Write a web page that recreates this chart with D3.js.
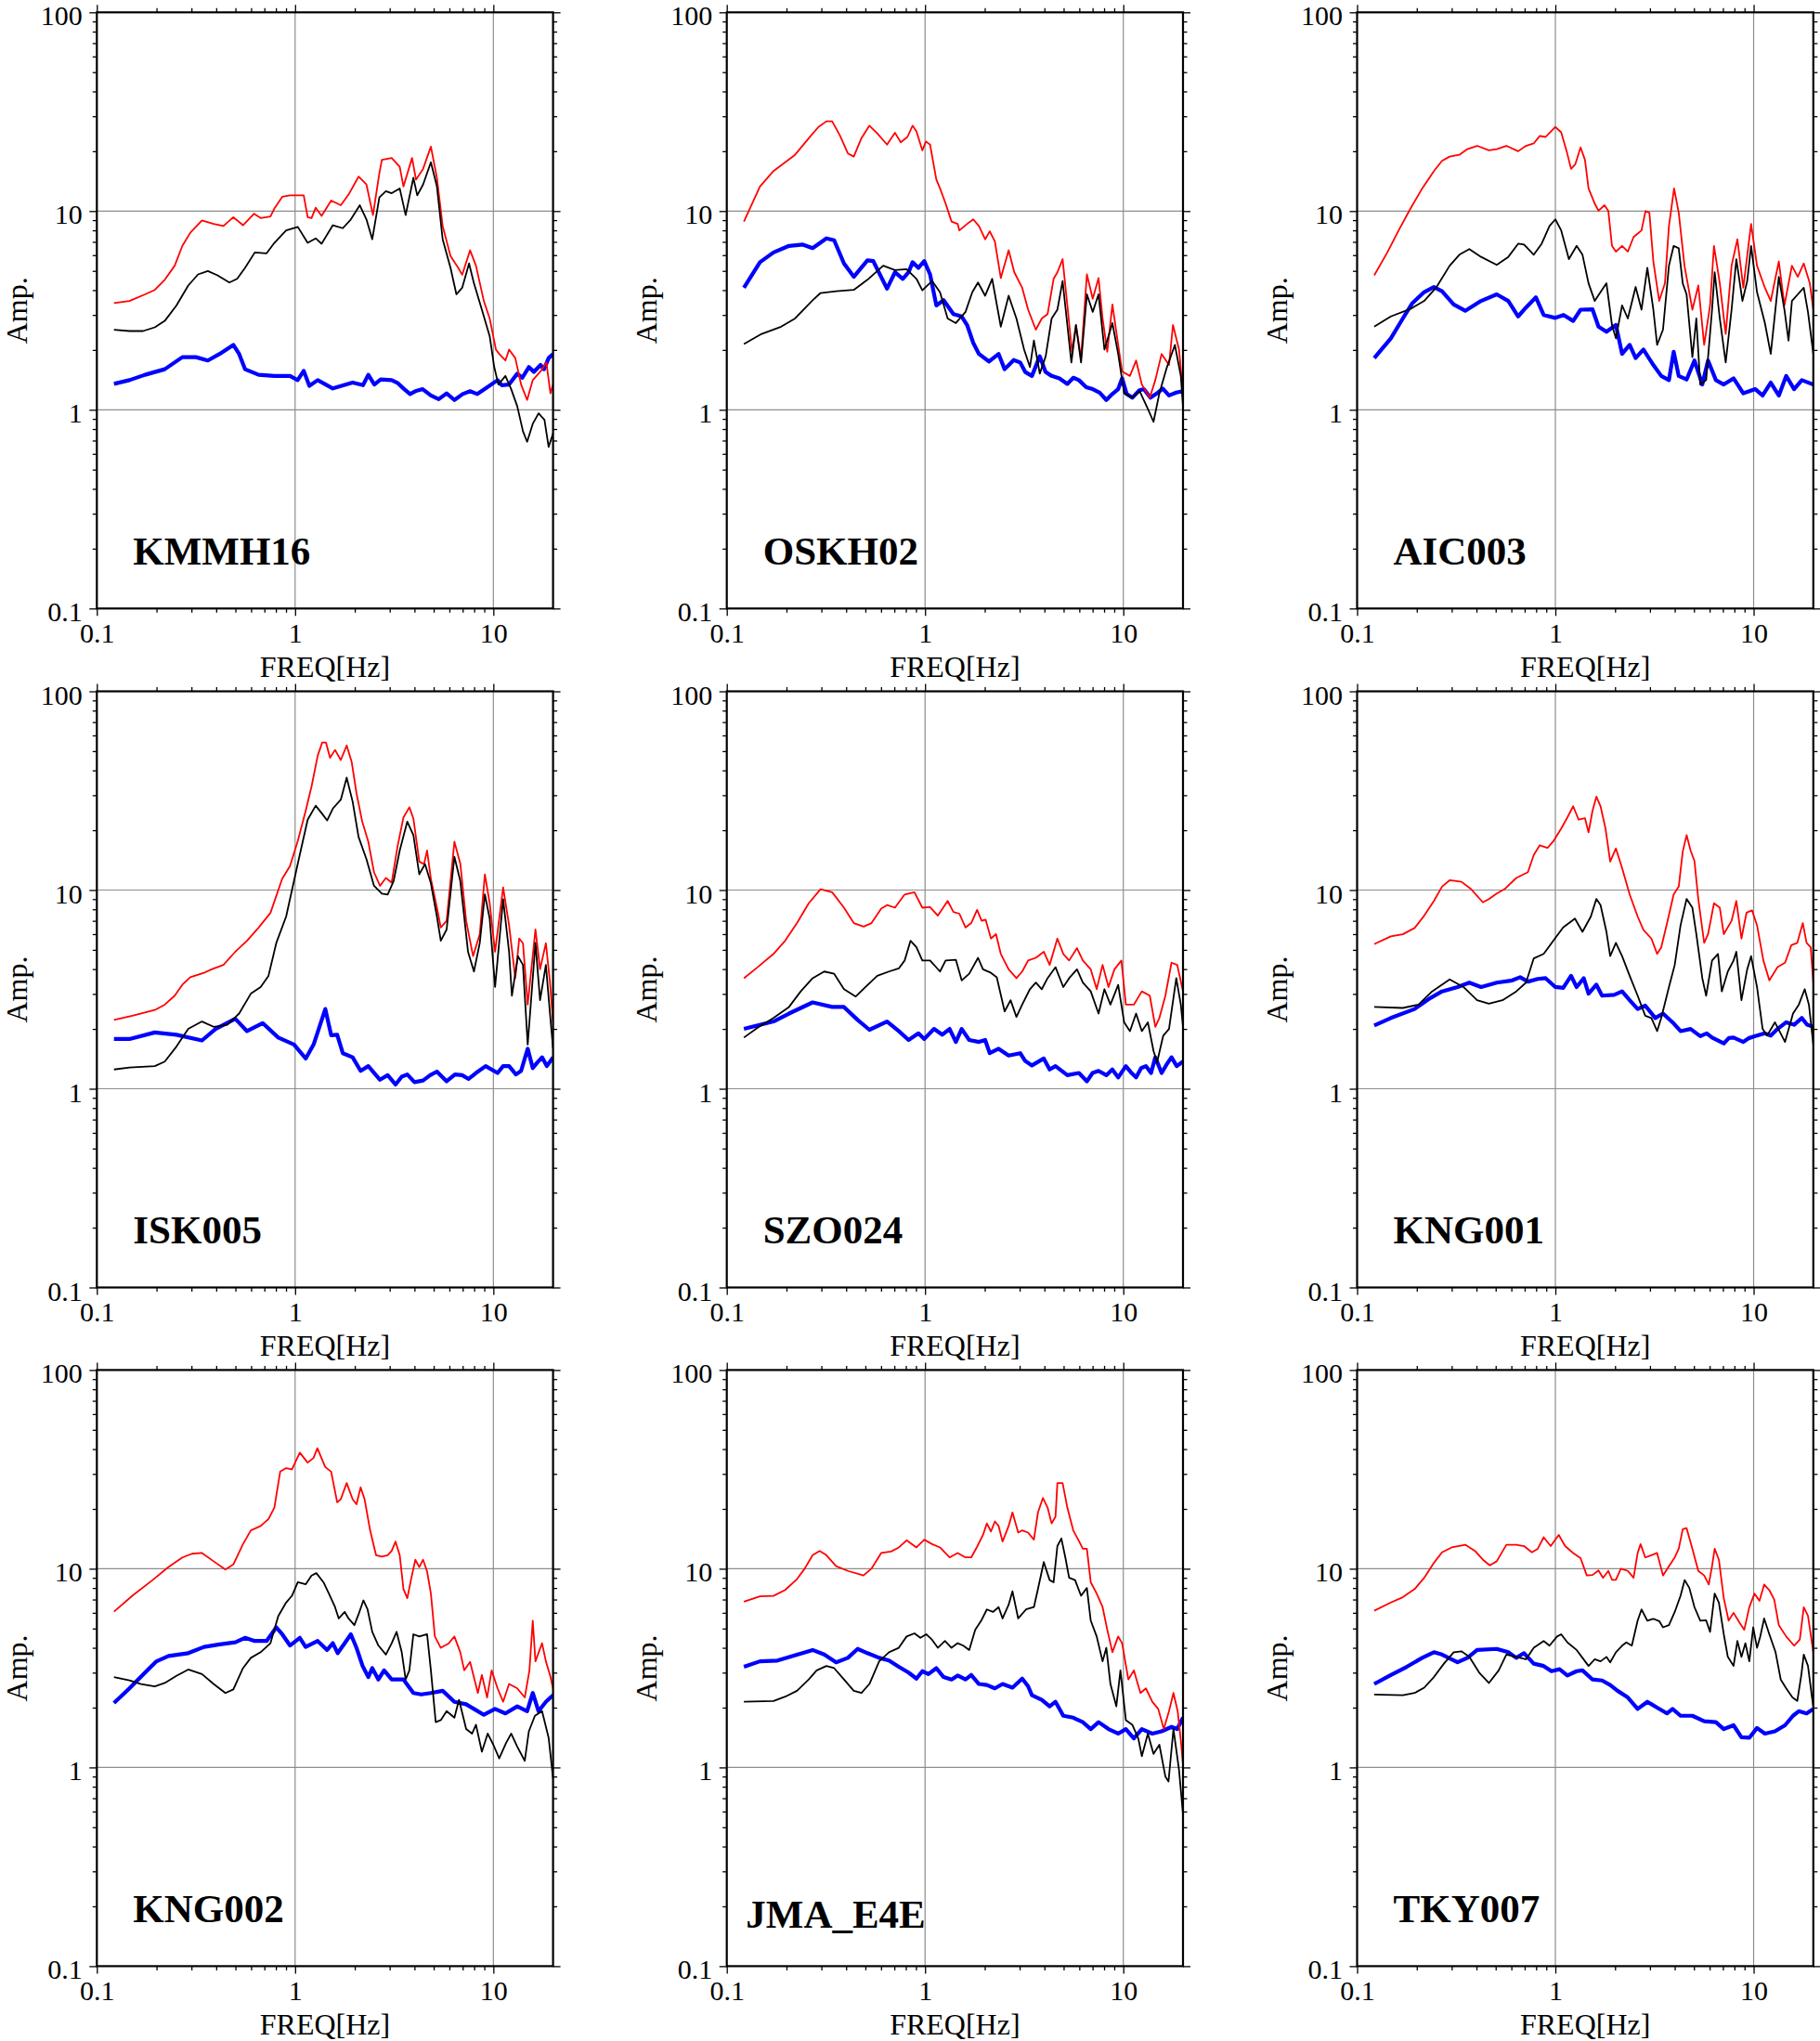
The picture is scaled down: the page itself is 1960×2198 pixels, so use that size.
<!DOCTYPE html>
<html><head><meta charset="utf-8">
<script src="https://cdn.jsdelivr.net/npm/d3@7"></script>
<style>body{margin:0;background:#fff}svg{display:block}</style>
</head><body><svg id="c" width="1960" height="2198"></svg>
<script>
// ---------------- DATA ----------------
const stations = ["KMMH16","OSKH02","AIC003","ISK005","SZO024","KNG001","KNG002","JMA_E4E","TKY007"];
const xTicks = [0.1, 1, 10];
const xTickLabels = ["0.1", "1", "10"];
const yTicks = [0.1, 1, 10, 100];
const yTickLabels = ["0.1", "1", "10", "100"];
const xMinor = [0.2,0.3,0.4,0.5,0.6,0.7,0.8,0.9,2,3,4,5,6,7,8,9];
const yMinor = [0.2,0.3,0.4,0.5,0.6,0.7,0.8,0.9,2,3,4,5,6,7,8,9,20,30,40,50,60,70,80,90];
const xLabel = "FREQ[Hz]";
const yLabel = "Amp.";

const KMMH16_red = [[0.122,3.44],[0.146,3.53],[0.175,3.81],[0.196,4.01],[0.22,4.51],[0.247,5.31],[0.27,6.68],[0.296,7.78],[0.339,8.98],[0.388,8.62],[0.435,8.41],[0.488,9.31],[0.546,8.49],[0.621,9.7],[0.67,9.22],[0.751,9.4],[0.786,10.3],[0.861,11.8],[0.942,12.0],[1.105,12.0],[1.157,9.31],[1.21,9.22],[1.27,10.4],[1.36,9.46],[1.52,11.3],[1.7,10.7],[1.86,12.1],[2.09,14.9],[2.29,13.6],[2.47,9.55],[2.66,15.5],[2.74,18.1],[3.07,18.5],[3.37,16.7],[3.52,13.3],[3.89,18.5],[4.07,14.4],[4.42,16.3],[4.84,21.1],[5.19,14.7],[5.55,8.41],[6.08,5.94],[6.65,5.18],[6.96,4.78],[7.63,6.35],[8.17,5.31],[8.95,3.53],[9.58,2.88],[10.3,2.01],[10.7,1.91],[11.5,1.77],[12.0,2.01],[12.9,1.82],[13.8,1.34],[14.8,1.12],[15.8,1.41],[17.3,1.56],[18.5,1.73],[19.4,1.21],[20,1.34]];
const KMMH16_black = [[0.122,2.53],[0.146,2.49],[0.171,2.49],[0.196,2.6],[0.22,2.8],[0.252,3.35],[0.289,4.22],[0.324,4.8],[0.363,4.99],[0.406,4.75],[0.466,4.37],[0.51,4.56],[0.559,5.18],[0.626,6.19],[0.718,6.13],[0.786,6.92],[0.901,7.99],[1.032,8.32],[1.157,6.92],[1.27,7.29],[1.36,6.85],[1.55,8.49],[1.74,8.2],[1.91,9.08],[2.12,10.7],[2.29,9.08],[2.45,7.21],[2.66,11.7],[2.87,12.6],[3.07,12.3],[3.37,13.0],[3.61,9.55],[3.95,14.7],[4.13,12.0],[4.42,13.6],[4.84,17.6],[5.19,13.3],[5.55,7.21],[6.08,5.18],[6.51,3.81],[6.96,4.11],[7.54,5.45],[7.98,4.33],[8.75,3.19],[9.58,2.35],[10.1,1.64],[10.6,1.34],[11.5,1.48],[12.3,1.27],[13.2,1.04],[14.1,0.78],[14.8,0.69],[15.8,0.85],[16.9,0.96],[18.1,0.89],[19.0,0.65],[20,0.76]];
const KMMH16_blue = [[0.122,1.35],[0.146,1.41],[0.175,1.5],[0.22,1.6],[0.27,1.84],[0.316,1.84],[0.363,1.77],[0.416,1.91],[0.488,2.12],[0.522,1.91],[0.559,1.6],[0.655,1.5],[0.786,1.48],[0.942,1.48],[1.03,1.41],[1.105,1.57],[1.18,1.32],[1.3,1.41],[1.55,1.28],[1.95,1.37],[2.2,1.33],[2.34,1.5],[2.51,1.34],[2.7,1.42],[3.07,1.41],[3.3,1.36],[3.52,1.28],[3.8,1.2],[4.04,1.24],[4.4,1.27],[4.84,1.18],[5.3,1.13],[5.81,1.21],[6.36,1.12],[7.0,1.2],[7.63,1.24],[8.3,1.2],[9.14,1.28],[10.5,1.41],[11.0,1.33],[12.0,1.34],[13.2,1.52],[14.0,1.45],[15.1,1.64],[16.0,1.55],[17.3,1.68],[18.0,1.6],[19.0,1.82],[20,1.91]];

const OSKH02_red = [[0.122,8.85],[0.147,13.3],[0.172,15.9],[0.197,17.6],[0.221,19.2],[0.265,23.9],[0.29,26.5],[0.318,28.3],[0.34,28.3],[0.373,23.9],[0.408,19.5],[0.437,18.8],[0.478,23.3],[0.524,26.9],[0.574,24.6],[0.643,21.6],[0.705,24.8],[0.754,22.2],[0.815,23.6],[0.865,26.9],[0.905,25.2],[0.969,20.2],[1.01,22.4],[1.06,21.6],[1.14,14.4],[1.19,13.0],[1.27,10.9],[1.36,8.85],[1.46,8.62],[1.49,7.99],[1.63,8.62],[1.75,9.08],[1.87,8.41],[2.01,7.21],[2.12,7.91],[2.25,7.03],[2.41,4.6],[2.64,6.35],[2.82,4.92],[3.09,4.11],[3.31,3.19],[3.62,2.53],[3.88,2.88],[4.15,3.03],[4.45,4.56],[4.65,4.92],[4.94,5.73],[5.22,3.35],[5.51,1.96],[5.77,2.67],[6.12,1.82],[6.55,4.8],[7.01,3.62],[7.5,4.6],[7.86,2.88],[8.3,1.96],[8.81,3.39],[9.42,2.12],[9.86,1.56],[10.8,1.48],[11.6,1.77],[12.4,1.34],[13.6,1.15],[14.5,1.41],[15.6,1.91],[17.0,1.68],[17.8,2.67],[19.1,2.01],[20,1.21]];
const OSKH02_black = [[0.122,2.14],[0.15,2.41],[0.188,2.62],[0.221,2.88],[0.271,3.56],[0.297,3.87],[0.356,3.95],[0.437,4.01],[0.512,4.51],[0.615,5.31],[0.705,5.05],[0.807,5.1],[0.905,4.56],[0.969,3.99],[1.085,4.45],[1.19,3.9],[1.3,2.88],[1.43,2.73],[1.6,3.11],[1.73,3.9],[1.85,4.37],[2.01,3.75],[2.18,4.56],[2.41,2.62],[2.64,3.75],[2.89,2.88],[3.16,2.01],[3.38,1.64],[3.54,2.23],[3.79,1.52],[4.06,1.86],[4.35,2.88],[4.65,3.19],[4.94,4.45],[5.22,2.67],[5.47,1.73],[5.77,2.67],[6.12,1.73],[6.55,3.81],[7.01,3.11],[7.5,3.81],[8.03,2.01],[8.81,2.73],[9.42,1.91],[10.1,1.21],[11.1,1.15],[12.1,1.24],[13.3,1.01],[14.2,0.87],[15.2,1.21],[16.6,1.64],[18.2,2.12],[19.5,1.48],[20,1.04]];
const OSKH02_blue = [[0.122,4.11],[0.147,5.53],[0.172,6.19],[0.206,6.68],[0.242,6.78],[0.271,6.51],[0.318,7.29],[0.348,7.13],[0.39,5.45],[0.437,4.67],[0.512,5.65],[0.548,5.6],[0.643,4.07],[0.705,4.92],[0.772,4.56],[0.826,4.92],[0.865,5.53],[0.926,5.18],[0.991,5.6],[1.06,4.8],[1.14,3.35],[1.24,3.56],[1.39,3.03],[1.53,2.95],[1.63,2.67],[1.75,2.17],[1.87,1.91],[2.1,1.75],[2.35,1.91],[2.52,1.6],[2.8,1.78],[3.02,1.73],[3.2,1.55],[3.46,1.48],[3.79,1.86],[4.05,1.55],[4.35,1.48],[4.76,1.44],[5.22,1.35],[5.6,1.45],[5.97,1.41],[6.5,1.3],[7.01,1.27],[7.6,1.22],[8.21,1.12],[8.8,1.2],[9.42,1.27],[9.86,1.44],[10.4,1.2],[11.1,1.15],[12.0,1.25],[12.7,1.27],[13.7,1.15],[14.8,1.21],[15.8,1.28],[17.0,1.18],[18.5,1.22],[20,1.24]];

const AIC003_red = [[0.122,4.75],[0.142,6.19],[0.162,7.99],[0.186,10.3],[0.213,13.0],[0.244,15.9],[0.268,17.9],[0.293,18.8],[0.328,19.2],[0.36,20.5],[0.403,21.3],[0.462,20.2],[0.506,20.5],[0.566,21.3],[0.649,20.0],[0.711,21.3],[0.778,21.9],[0.834,23.9],[0.893,23.6],[0.947,25.1],[1.0,26.5],[1.07,24.9],[1.14,20.0],[1.2,16.3],[1.26,17.2],[1.34,20.9],[1.41,18.1],[1.47,13.0],[1.58,10.9],[1.65,10.05],[1.77,10.7],[1.85,10.0],[1.93,6.68],[2.02,6.25],[2.17,6.68],[2.32,6.25],[2.48,7.4],[2.72,7.99],[2.85,10.0],[2.98,9.8],[3.12,5.58],[3.34,3.53],[3.57,4.33],[3.74,8.41],[3.97,13.0],[4.19,9.8],[4.48,5.31],[4.91,3.19],[5.26,4.22],[5.63,2.12],[6.03,3.35],[6.31,6.68],[6.75,4.33],[7.23,2.41],[7.74,5.31],[8.28,7.21],[8.87,4.11],[9.71,8.62],[10.4,5.31],[11.4,4.11],[12.2,3.53],[13.4,5.58],[14.3,3.35],[15.6,5.31],[16.7,4.67],[17.9,5.45],[19.2,4.33],[20,3.19]];
const AIC003_black = [[0.122,2.62],[0.148,2.95],[0.186,3.22],[0.218,3.53],[0.25,4.11],[0.293,5.31],[0.328,6.03],[0.368,6.44],[0.422,5.88],[0.506,5.36],[0.579,5.88],[0.649,6.85],[0.695,6.78],[0.778,6.03],[0.853,6.85],[0.934,8.41],[1.0,9.08],[1.07,7.99],[1.17,5.73],[1.28,6.68],[1.37,6.03],[1.47,4.33],[1.58,3.53],[1.69,3.91],[1.81,4.33],[1.93,2.67],[2.02,2.29],[2.17,3.35],[2.32,2.88],[2.54,4.15],[2.72,3.19],[2.91,5.18],[3.12,3.19],[3.26,2.12],[3.49,2.53],[3.74,5.31],[3.95,6.68],[4.19,6.5],[4.39,4.33],[4.59,3.81],[4.91,1.84],[5.14,2.88],[5.38,1.34],[5.76,1.41],[6.17,3.19],[6.36,4.92],[6.75,2.88],[7.23,1.73],[7.74,3.19],[8.18,5.73],[8.78,3.53],[9.28,4.44],[9.71,6.68],[10.4,3.91],[11.4,2.73],[12.2,1.91],[13.4,4.67],[14.3,3.19],[15.0,2.23],[15.6,3.53],[16.7,3.81],[17.9,4.11],[18.8,3.1],[20,1.91]];
const AIC003_blue = [[0.122,1.82],[0.148,2.29],[0.17,2.88],[0.19,3.44],[0.218,3.91],[0.244,4.15],[0.268,3.95],[0.307,3.39],[0.351,3.15],[0.422,3.53],[0.506,3.81],[0.579,3.53],[0.649,2.95],[0.711,3.27],[0.797,3.68],[0.873,3.0],[1.0,2.9],[1.1,3.0],[1.23,2.8],[1.34,3.19],[1.54,3.2],[1.65,2.62],[1.81,2.47],[2.02,2.67],[2.17,1.91],[2.37,2.12],[2.54,1.82],[2.78,2.01],[3.12,1.68],[3.42,1.48],[3.74,1.41],[3.95,1.96],[4.19,1.48],[4.59,1.42],[5.03,1.77],[5.51,1.34],[5.89,1.77],[6.45,1.41],[7.07,1.34],[7.92,1.44],[8.87,1.21],[10.2,1.27],[11.1,1.18],[12.2,1.37],[13.4,1.18],[14.6,1.48],[16.0,1.27],[17.5,1.41],[20,1.34]];

const ISK005_red = [[0.122,2.22],[0.151,2.33],[0.196,2.49],[0.22,2.65],[0.247,2.94],[0.27,3.34],[0.296,3.64],[0.347,3.83],[0.379,3.99],[0.435,4.2],[0.499,4.89],[0.572,5.56],[0.655,6.48],[0.751,7.67],[0.861,11.4],[0.942,13.2],[1.032,17.7],[1.131,25.1],[1.21,33.2],[1.3,47.4],[1.37,55.3],[1.43,55.3],[1.5,46.3],[1.59,50.7],[1.7,45.1],[1.82,53.4],[1.93,44.0],[2.04,30.7],[2.18,22.1],[2.34,17.5],[2.5,12.3],[2.68,10.5],[2.87,11.5],[3.07,10.9],[3.29,16.7],[3.52,23.2],[3.77,26.1],[3.95,22.9],[4.23,13.9],[4.47,13.5],[4.63,15.8],[4.84,11.4],[5.19,8.15],[5.43,6.48],[5.81,7.0],[6.36,17.5],[6.81,13.6],[7.29,7.0],[7.9,4.65],[8.54,6.0],[9.06,12.0],[9.58,8.58],[10.2,4.89],[11.2,10.3],[12.0,6.65],[12.9,3.6],[13.5,5.7],[14.1,5.4],[14.9,2.65],[16.3,6.33],[17.2,3.99],[18.4,5.4],[19.3,3.43],[20,2.16]];
const ISK005_black = [[0.122,1.25],[0.146,1.28],[0.196,1.3],[0.22,1.37],[0.252,1.63],[0.289,2.0],[0.339,2.18],[0.388,2.05],[0.455,2.1],[0.522,2.39],[0.598,3.01],[0.67,3.25],[0.734,3.7],[0.804,5.42],[0.901,7.36],[0.987,11.1],[1.055,15.0],[1.157,22.6],[1.27,26.6],[1.36,24.4],[1.45,22.4],[1.55,25.7],[1.7,28.5],[1.82,36.8],[1.95,27.9],[2.09,18.5],[2.29,14.3],[2.5,10.5],[2.74,9.6],[2.93,9.5],[3.14,11.1],[3.37,15.8],[3.68,22.1],[3.95,18.9],[4.23,12.0],[4.52,13.5],[4.84,10.8],[5.19,7.36],[5.43,5.56],[5.81,6.33],[6.36,14.7],[6.81,11.1],[7.45,4.89],[7.98,3.89],[8.54,5.42],[9.06,9.5],[9.58,7.18],[10.2,3.25],[11.2,9.0],[12.0,4.89],[12.4,2.94],[13.3,4.65],[14.1,4.2],[14.9,1.67],[16.3,5.42],[17.2,2.79],[18.4,4.2],[19.3,2.39],[20,1.59]];
const ISK005_blue = [[0.122,1.78],[0.146,1.78],[0.196,1.92],[0.252,1.87],[0.339,1.75],[0.397,2.0],[0.499,2.25],[0.572,1.95],[0.686,2.14],[0.822,1.81],[0.987,1.67],[1.131,1.42],[1.24,1.67],[1.42,2.52],[1.52,1.86],[1.63,1.87],[1.74,1.51],[1.95,1.44],[2.14,1.23],[2.34,1.3],[2.68,1.11],[2.93,1.17],[3.21,1.05],[3.45,1.15],[3.68,1.18],[4.0,1.08],[4.42,1.1],[4.8,1.17],[5.19,1.22],[5.81,1.09],[6.4,1.18],[6.96,1.17],[7.5,1.12],[8.17,1.2],[9.14,1.3],[10.5,1.2],[11.2,1.3],[12.0,1.3],[13.0,1.18],[13.8,1.23],[14.9,1.59],[15.8,1.27],[16.6,1.35],[17.6,1.44],[18.6,1.3],[20,1.44]];

const SZO024_red = [[0.122,3.6],[0.143,4.09],[0.172,4.77],[0.197,5.56],[0.226,6.82],[0.259,8.58],[0.297,10.1],[0.34,9.75],[0.39,8.15],[0.437,6.82],[0.49,6.55],[0.537,6.82],[0.601,8.07],[0.643,8.4],[0.705,8.15],[0.789,9.5],[0.884,9.75],[0.969,8.15],[1.06,8.2],[1.16,7.43],[1.3,8.81],[1.39,7.75],[1.49,7.6],[1.6,6.48],[1.71,6.82],[1.83,7.94],[1.93,7.0],[2.02,7.1],[2.15,5.7],[2.28,6.0],[2.41,4.77],[2.64,3.99],[2.89,3.6],[3.09,3.89],[3.31,4.42],[3.62,4.56],[3.97,4.89],[4.25,4.2],[4.65,5.7],[4.98,4.77],[5.33,4.42],[5.84,5.1],[6.25,4.42],[6.85,3.99],[7.34,3.17],[7.86,4.2],[8.42,3.25],[9.02,3.99],[9.78,4.42],[10.3,2.65],[11.3,2.65],[12.4,3.09],[13.6,2.94],[14.5,2.05],[15.2,2.27],[16.3,2.94],[17.5,4.31],[18.7,4.2],[20,3.09]];
const SZO024_black = [[0.122,1.81],[0.143,2.03],[0.172,2.27],[0.206,2.58],[0.236,3.09],[0.271,3.6],[0.31,3.89],[0.348,3.79],[0.39,3.17],[0.447,2.91],[0.501,3.25],[0.574,3.7],[0.658,3.89],[0.737,4.03],[0.789,4.42],[0.845,5.56],[0.905,5.15],[0.969,4.42],[1.06,4.42],[1.19,3.89],[1.27,4.42],[1.43,4.46],[1.53,3.51],[1.67,3.79],[1.85,4.56],[1.96,3.99],[2.15,3.83],[2.3,3.64],[2.52,2.45],[2.7,2.79],[2.89,2.3],[3.09,2.65],[3.38,3.17],[3.62,3.42],[3.88,3.17],[4.15,3.6],[4.55,4.09],[4.98,3.25],[5.33,3.6],[5.84,3.99],[6.25,3.42],[6.85,3.09],[7.5,2.39],[8.03,3.17],[8.61,2.65],[9.42,3.33],[10.1,2.16],[10.8,1.95],[11.6,2.39],[12.4,1.95],[13.3,2.16],[14.2,1.55],[14.8,1.36],[15.9,1.85],[17.0,2.0],[18.5,3.6],[19.5,2.65],[20,2.05]];
const SZO024_blue = [[0.122,2.0],[0.172,2.18],[0.206,2.39],[0.271,2.72],[0.34,2.58],[0.39,2.58],[0.457,2.22],[0.524,1.98],[0.643,2.18],[0.737,1.95],[0.826,1.76],[0.926,1.9],[0.991,1.78],[1.11,2.0],[1.22,1.87],[1.33,2.0],[1.43,1.72],[1.53,2.0],[1.67,1.76],[1.87,1.72],[2.01,1.76],[2.12,1.51],[2.35,1.59],[2.64,1.47],[3.02,1.51],[3.2,1.38],[3.46,1.31],[3.97,1.42],[4.25,1.25],[4.55,1.3],[5.22,1.17],[5.97,1.2],[6.55,1.09],[7.0,1.2],[7.5,1.23],[8.21,1.17],[8.8,1.25],[9.42,1.14],[10.3,1.3],[11.0,1.2],[11.6,1.14],[12.3,1.27],[13.0,1.3],[13.8,1.2],[14.5,1.44],[15.6,1.2],[16.5,1.32],[17.5,1.44],[18.6,1.3],[20,1.37]];

const KNG001_red = [[0.122,5.34],[0.148,5.85],[0.17,5.99],[0.195,6.44],[0.218,7.43],[0.244,8.81],[0.268,10.4],[0.293,11.2],[0.336,11.0],[0.376,10.1],[0.431,8.67],[0.462,9.0],[0.506,9.6],[0.554,10.1],[0.635,11.5],[0.727,12.3],[0.778,15.0],[0.834,16.8],[0.913,16.3],[0.977,17.6],[1.07,20.4],[1.15,23.2],[1.23,26.4],[1.31,22.6],[1.41,23.0],[1.47,19.5],[1.54,25.1],[1.61,29.5],[1.69,26.4],[1.79,20.4],[1.89,13.9],[2.02,16.2],[2.17,12.9],[2.37,9.5],[2.6,7.36],[2.78,6.31],[3.05,5.7],[3.26,4.77],[3.42,5.15],[3.66,6.82],[3.95,9.5],[4.19,10.4],[4.39,15.6],[4.59,18.9],[4.81,15.8],[5.03,14.0],[5.26,9.0],[5.63,5.42],[5.89,6.0],[6.31,8.58],[6.75,8.15],[7.07,6.0],[7.74,7.0],[8.18,8.81],[8.68,5.7],[9.21,7.7],[9.82,7.9],[10.4,6.65],[11.2,4.42],[12.0,3.51],[13.2,4.09],[14.4,4.31],[15.5,5.28],[16.6,5.42],[17.7,6.82],[18.5,5.42],[19.4,5.15],[20,3.42]];
const KNG001_black = [[0.122,2.58],[0.17,2.55],[0.204,2.65],[0.239,3.09],[0.293,3.55],[0.344,3.25],[0.403,2.79],[0.462,2.68],[0.541,2.79],[0.635,3.09],[0.711,3.42],[0.778,4.53],[0.873,4.77],[0.977,5.56],[1.095,6.48],[1.255,7.18],[1.37,6.16],[1.51,7.36],[1.61,9.02],[1.69,8.4],[1.81,6.16],[1.89,4.65],[2.02,5.42],[2.17,4.65],[2.37,3.7],[2.6,2.94],[2.84,2.33],[3.05,2.27],[3.26,1.95],[3.42,2.27],[3.74,3.25],[4.0,4.2],[4.28,6.65],[4.59,9.02],[4.91,8.15],[5.14,6.0],[5.51,3.6],[5.76,2.94],[6.17,4.42],[6.61,4.77],[6.91,3.09],[7.41,3.89],[7.92,4.42],[8.18,4.89],[8.68,2.79],[9.28,3.99],[9.71,4.65],[10.4,3.25],[11.1,2.0],[11.7,1.85],[12.8,2.16],[14.4,1.72],[15.8,2.39],[16.9,2.65],[18.1,3.17],[19.0,2.65],[20,1.67]];
const KNG001_blue = [[0.122,2.08],[0.148,2.27],[0.195,2.52],[0.234,2.86],[0.268,3.09],[0.321,3.25],[0.368,3.42],[0.422,3.25],[0.506,3.42],[0.606,3.51],[0.664,3.64],[0.727,3.46],[0.815,3.57],[0.893,3.6],[1.0,3.25],[1.095,3.22],[1.2,3.7],[1.28,3.25],[1.39,3.6],[1.47,3.01],[1.61,3.34],[1.72,2.94],[1.98,2.97],[2.17,3.09],[2.37,2.79],[2.6,2.52],[2.84,2.62],[3.19,2.27],[3.49,2.39],[3.9,2.16],[4.28,1.95],[4.81,2.0],[5.38,1.84],[5.8,1.9],[6.17,1.81],[7.07,1.69],[7.5,1.8],[7.92,1.81],[8.87,1.72],[9.5,1.8],[10.2,1.84],[11.4,1.9],[12.2,1.85],[13.2,2.0],[14.6,2.16],[16.0,2.1],[17.5,2.27],[18.6,2.1],[20,2.05]];

const KNG002_red = [[0.122,6.08],[0.151,7.31],[0.191,8.77],[0.23,10.2],[0.27,11.4],[0.302,11.9],[0.339,12.0],[0.388,10.9],[0.445,9.9],[0.488,10.5],[0.546,13.3],[0.598,15.6],[0.67,16.4],[0.734,17.8],[0.786,20.3],[0.841,30.8],[0.901,32.1],[0.964,31.6],[1.056,38.4],[1.157,34.2],[1.238,36.1],[1.295,40.4],[1.419,32.5],[1.52,30.8],[1.63,21.6],[1.7,22.4],[1.82,27.0],[1.95,22.4],[2.04,21.1],[2.14,25.7],[2.24,22.4],[2.39,15.6],[2.56,11.7],[2.74,11.5],[2.93,11.7],[3.07,12.3],[3.21,13.7],[3.37,11.7],[3.52,7.9],[3.68,7.11],[3.86,9.0],[4.04,11.1],[4.23,10.2],[4.42,11.1],[4.63,9.7],[4.84,7.5],[5.07,4.56],[5.43,4.0],[5.94,4.2],[6.36,4.56],[6.81,3.8],[7.13,3.08],[7.63,3.4],[8.35,2.37],[8.75,2.92],[9.3,2.25],[9.8,3.08],[10.5,2.5],[11.2,2.14],[12.0,2.63],[13.2,2.5],[14.4,2.25],[15.2,3.08],[15.8,5.48],[16.3,3.42],[17.6,4.22],[18.4,3.42],[19.3,2.92],[20,2.5]];
const KNG002_black = [[0.122,2.85],[0.146,2.74],[0.167,2.63],[0.196,2.56],[0.22,2.66],[0.252,2.89],[0.289,3.11],[0.339,2.95],[0.388,2.63],[0.445,2.37],[0.488,2.47],[0.546,3.16],[0.598,3.56],[0.67,3.8],[0.751,4.22],[0.822,5.77],[0.901,6.76],[0.964,7.31],[1.032,8.55],[1.13,8.35],[1.21,9.24],[1.28,9.5],[1.39,8.55],[1.48,7.5],[1.59,6.41],[1.66,5.62],[1.78,6.06],[1.86,5.62],[1.99,5.2],[2.09,5.9],[2.21,6.93],[2.32,6.24],[2.45,4.81],[2.63,4.11],[2.87,3.7],[3.07,4.22],[3.25,4.81],[3.45,3.8],[3.61,2.77],[3.77,3.08],[3.95,4.68],[4.23,4.56],[4.63,4.68],[4.84,3.08],[5.12,1.69],[5.43,1.73],[5.81,1.92],[6.36,1.78],[6.71,2.19],[7.29,1.56],[7.81,1.48],[8.17,1.64],[8.75,1.2],[9.36,1.48],[10.0,1.3],[10.7,1.11],[11.6,1.33],[12.3,1.48],[13.2,1.27],[14.4,1.08],[15.1,1.52],[16.2,1.82],[17.6,1.92],[19.0,1.41],[20,0.88]];
const KNG002_blue = [[0.122,2.11],[0.146,2.5],[0.175,3.0],[0.2,3.42],[0.23,3.64],[0.289,3.76],[0.347,4.04],[0.416,4.16],[0.499,4.26],[0.559,4.49],[0.626,4.33],[0.718,4.33],[0.804,5.07],[0.861,4.68],[0.942,4.11],[1.056,4.49],[1.13,4.04],[1.3,4.33],[1.45,3.9],[1.55,4.22],[1.64,3.76],[1.78,4.22],[1.91,4.68],[2.04,4.0],[2.19,3.24],[2.34,2.85],[2.45,3.16],[2.63,2.77],[2.81,3.08],[3.07,2.77],[3.52,2.77],[3.95,2.37],[4.33,2.33],[4.84,2.37],[5.55,2.43],[6.36,2.14],[7.29,2.08],[7.98,1.97],[8.95,1.84],[10.2,1.97],[11.5,1.87],[13.2,2.03],[14.8,1.92],[15.8,2.37],[16.9,1.92],[18.4,2.14],[20,2.31]];

const JMA_E4E_red = [[0.122,6.82],[0.147,7.27],[0.172,7.3],[0.197,7.82],[0.226,8.87],[0.247,10.0],[0.271,11.7],[0.294,12.3],[0.318,11.7],[0.356,10.3],[0.408,9.75],[0.489,9.25],[0.536,10.0],[0.601,12.0],[0.673,12.2],[0.738,12.8],[0.807,13.9],[0.905,12.8],[0.991,14.0],[1.085,13.3],[1.19,12.8],[1.33,11.4],[1.46,12.0],[1.6,11.4],[1.71,11.4],[1.83,12.9],[1.96,14.8],[2.05,16.9],[2.15,15.4],[2.25,17.3],[2.35,16.4],[2.46,13.7],[2.64,16.4],[2.76,19.2],[2.95,15.2],[3.09,15.6],[3.31,15.2],[3.54,14.0],[3.71,19.2],[3.93,22.7],[4.15,20.3],[4.35,16.9],[4.55,18.3],[4.65,27.0],[4.94,27.0],[5.22,20.3],[5.59,15.6],[5.99,13.7],[6.25,12.6],[6.55,12.6],[6.85,8.55],[7.34,7.5],[7.86,6.41],[8.3,4.93],[8.81,3.8],[9.42,4.56],[9.86,4.22],[10.6,2.77],[11.3,3.08],[12.2,2.37],[13.0,2.5],[14.0,2.14],[15.0,1.97],[16.0,1.56],[17.0,1.92],[17.9,2.37],[18.8,1.92],[19.6,1.3],[20,1.03]];
const JMA_E4E_black = [[0.122,2.14],[0.172,2.16],[0.197,2.27],[0.226,2.43],[0.259,2.77],[0.284,3.08],[0.318,3.24],[0.348,3.16],[0.39,2.77],[0.437,2.43],[0.478,2.37],[0.524,2.63],[0.587,3.42],[0.658,3.8],[0.737,4.0],[0.807,4.56],[0.884,4.73],[0.947,4.49],[1.014,4.68],[1.085,4.39],[1.16,4.0],[1.26,4.33],[1.36,4.0],[1.46,4.22],[1.56,4.1],[1.67,3.9],[1.79,4.93],[1.92,5.48],[2.05,6.24],[2.2,6.06],[2.35,6.41],[2.46,5.62],[2.64,6.59],[2.76,7.7],[2.95,5.62],[3.23,6.24],[3.54,6.41],[3.71,7.9],[3.97,10.8],[4.25,8.77],[4.45,8.55],[4.65,13.0],[4.87,14.2],[5.1,11.4],[5.33,9.0],[5.71,8.77],[6.12,7.31],[6.55,8.0],[6.85,5.48],[7.34,4.56],[7.86,3.42],[8.21,4.0],[8.61,2.63],[9.22,2.03],[9.67,3.08],[10.3,1.73],[11.1,1.64],[11.9,1.4],[12.4,1.14],[13.3,1.48],[14.2,1.17],[15.2,1.3],[16.3,0.9],[16.9,0.85],[17.9,1.56],[19.1,0.97],[20,0.58]];
const JMA_E4E_blue = [[0.122,3.21],[0.147,3.42],[0.18,3.45],[0.216,3.64],[0.271,3.9],[0.31,3.7],[0.356,3.38],[0.408,3.56],[0.457,3.95],[0.512,3.76],[0.587,3.56],[0.658,3.45],[0.737,3.21],[0.826,3.0],[0.905,2.8],[0.969,3.05],[1.04,2.95],[1.14,3.16],[1.24,2.85],[1.36,2.77],[1.46,2.9],[1.6,2.77],[1.71,2.92],[1.87,2.63],[2.05,2.6],[2.25,2.5],[2.46,2.63],[2.76,2.52],[3.09,2.8],[3.31,2.56],[3.46,2.31],[3.88,2.19],[4.25,2.03],[4.55,2.14],[4.98,1.82],[5.59,1.78],[6.25,1.69],[6.85,1.56],[7.5,1.69],[8.42,1.56],[9.42,1.48],[10.3,1.56],[11.3,1.4],[12.4,1.56],[14.0,1.48],[15.6,1.52],[17.5,1.6],[18.7,1.56],[20,1.78]];

const TKY007_red = [[0.122,6.15],[0.148,6.76],[0.17,7.19],[0.195,7.9],[0.218,9.0],[0.244,10.7],[0.268,12.1],[0.3,12.8],[0.351,13.2],[0.393,12.3],[0.431,11.1],[0.467,10.4],[0.506,10.9],[0.566,13.2],[0.635,13.2],[0.695,13.0],[0.761,12.1],[0.815,12.6],[0.873,14.4],[0.947,13.0],[1.04,14.8],[1.12,13.0],[1.23,12.0],[1.34,11.3],[1.44,9.25],[1.54,9.3],[1.65,9.8],[1.74,9.0],[1.85,9.75],[1.93,8.8],[2.02,8.8],[2.14,10.0],[2.32,9.75],[2.48,9.0],[2.6,12.0],[2.69,13.3],[2.84,11.4],[3.05,11.7],[3.26,12.0],[3.49,9.25],[3.74,10.3],[4.0,11.4],[4.19,12.6],[4.39,15.8],[4.59,16.0],[4.91,12.6],[5.26,9.75],[5.63,9.25],[5.94,8.33],[6.17,10.3],[6.36,12.6],[6.68,11.1],[7.07,7.11],[7.48,5.48],[7.92,6.0],[8.49,5.35],[8.97,4.93],[9.51,6.4],[10.1,7.5],[10.7,6.9],[11.3,8.33],[12.0,7.8],[12.7,7.0],[13.4,5.2],[14.6,4.56],[16.0,4.1],[17.1,4.4],[17.9,6.4],[18.8,5.8],[20,3.8]];
const TKY007_black = [[0.122,2.33],[0.17,2.31],[0.195,2.37],[0.218,2.52],[0.244,2.85],[0.274,3.33],[0.307,3.8],[0.336,3.84],[0.368,3.6],[0.413,3.0],[0.462,2.66],[0.518,3.08],[0.566,3.7],[0.635,3.6],[0.711,3.5],[0.778,4.0],[0.873,4.33],[0.934,4.1],[1.02,4.56],[1.07,4.68],[1.15,4.26],[1.28,3.9],[1.37,3.56],[1.47,3.24],[1.58,3.5],[1.69,3.42],[1.81,3.6],[1.89,3.38],[2.02,3.8],[2.17,4.1],[2.28,4.26],[2.43,4.1],[2.6,5.48],[2.72,6.24],[2.91,5.48],[3.12,5.6],[3.34,5.45],[3.49,5.07],[3.74,5.2],[4.0,6.06],[4.28,7.31],[4.49,8.77],[4.74,8.0],[5.03,6.41],[5.38,5.48],[5.76,5.5],[6.03,4.81],[6.36,7.5],[6.68,6.76],[7.07,4.68],[7.41,3.6],[7.92,3.24],[8.28,4.33],[8.68,3.6],[9.09,4.22],[9.51,3.42],[9.95,5.07],[10.4,4.0],[10.8,4.56],[11.3,5.62],[12.0,4.68],[12.9,3.8],[13.7,2.77],[14.6,2.5],[15.7,2.25],[16.6,2.16],[17.4,2.92],[17.9,3.7],[18.8,3.24],[19.7,2.25],[20,2.03]];
const TKY007_blue = [[0.122,2.63],[0.148,2.92],[0.178,3.21],[0.213,3.56],[0.244,3.8],[0.268,3.7],[0.321,3.38],[0.36,3.56],[0.403,3.9],[0.506,3.95],[0.579,3.8],[0.635,3.56],[0.695,3.76],[0.778,3.33],[0.873,3.24],[0.956,3.05],[1.05,3.12],[1.15,2.9],[1.28,3.05],[1.37,3.08],[1.54,2.77],[1.72,2.74],[1.89,2.6],[2.06,2.43],[2.32,2.25],[2.6,1.97],[2.91,2.14],[3.26,2.0],[3.66,1.87],[3.9,1.97],[4.28,1.82],[4.91,1.82],[5.63,1.71],[6.45,1.69],[7.07,1.56],[7.92,1.63],[8.68,1.42],[9.51,1.41],[10.4,1.58],[11.4,1.48],[12.8,1.52],[14.4,1.63],[15.8,1.82],[16.9,1.92],[18.5,1.87],[20,1.97]];

// table built from the arrays
const panels = [
  {name: stations[0], red: KMMH16_red, black: KMMH16_black, blue: KMMH16_blue},
  {name: stations[1], red: OSKH02_red, black: OSKH02_black, blue: OSKH02_blue},
  {name: stations[2], red: AIC003_red, black: AIC003_black, blue: AIC003_blue},
  {name: stations[3], red: ISK005_red, black: ISK005_black, blue: ISK005_blue},
  {name: stations[4], red: SZO024_red, black: SZO024_black, blue: SZO024_blue},
  {name: stations[5], red: KNG001_red, black: KNG001_black, blue: KNG001_blue},
  {name: stations[6], red: KNG002_red, black: KNG002_black, blue: KNG002_blue},
  {name: stations[7], red: JMA_E4E_red, black: JMA_E4E_black, blue: JMA_E4E_blue},
  {name: stations[8], red: TKY007_red, black: TKY007_black, blue: TKY007_blue}
];

// ---------------- DRAWING ----------------
const FONT = "'Liberation Serif','Times New Roman',Times,serif";
const svg = d3.select("#c");
svg.append("rect").attr("width", 1960).attr("height", 2198).attr("fill", "#fff");
const W = 491.3, H = 642;
const colX = [104.3, 782.7, 1461.5];
const rowY = [13.3, 744.5, 1475.4];
const x = d3.scaleLog().domain([0.1, 20]).range([0, W]);
const y = d3.scaleLog().domain([0.1, 100]).range([H, 0]);
const line = d3.line().x(d => x(d[0])).y(d => y(d[1]));
const gridColor = "#8d8d8d";

function styleAxis(sel, labels) {
  sel.select(".domain").remove();
  sel.selectAll(".tick line").attr("stroke", "#000").attr("stroke-width", 1.3);
  sel.attr("font-family", FONT).attr("font-size", 30);
  if (labels) sel.selectAll(".tick text").attr("fill", "#000");
}

panels.forEach((p, i) => {
  const g = svg.append("g")
    .attr("transform", `translate(${colX[i % 3]},${rowY[Math.floor(i / 3)]})`);

  // grid
  const gx = [1, 10], gy = [1, 10];
  g.append("g").selectAll("line").data(gx).join("line")
    .attr("x1", d => x(d)).attr("x2", d => x(d)).attr("y1", 0).attr("y2", H)
    .attr("stroke", gridColor).attr("stroke-width", 1.2);
  g.append("g").selectAll("line").data(gy).join("line")
    .attr("y1", d => y(d)).attr("y2", d => y(d)).attr("x1", 0).attr("x2", W)
    .attr("stroke", gridColor).attr("stroke-width", 1.2);

  // curves
  const cid = "clip" + i;
  g.append("clipPath").attr("id", cid).append("rect").attr("width", W).attr("height", H);
  const cg = g.append("g").attr("clip-path", `url(#${cid})`);
  cg.append("path").datum(p.blue).attr("d", line).attr("fill", "none")
    .attr("stroke", "#0000ff").attr("stroke-width", 4.2).attr("stroke-linejoin", "round");
  cg.append("path").datum(p.red).attr("d", line).attr("fill", "none")
    .attr("stroke", "#ff0000").attr("stroke-width", 1.8).attr("stroke-linejoin", "round");
  cg.append("path").datum(p.black).attr("d", line).attr("fill", "none")
    .attr("stroke", "#000").attr("stroke-width", 1.8).attr("stroke-linejoin", "round");

  // frame
  g.append("rect").attr("width", W).attr("height", H).attr("fill", "none")
    .attr("stroke", "#000").attr("stroke-width", 2.2);

  // axes
  g.append("g").attr("transform", `translate(0,${H})`)
    .call(d3.axisBottom(x).tickValues(xTicks).tickFormat((d, k) => xTickLabels[k]).tickSize(8).tickPadding(7.2).tickSizeOuter(0))
    .call(s => styleAxis(s, true));
  g.append("g").attr("transform", `translate(0,${H})`)
    .call(d3.axisBottom(x).tickValues(xMinor).tickFormat(() => "").tickSize(4.5).tickSizeOuter(0))
    .call(s => styleAxis(s, false));
  g.append("g")
    .call(d3.axisTop(x).tickValues(xTicks).tickFormat(() => "").tickSize(8).tickSizeOuter(0))
    .call(s => styleAxis(s, false));
  g.append("g")
    .call(d3.axisTop(x).tickValues(xMinor).tickFormat(() => "").tickSize(4.5).tickSizeOuter(0))
    .call(s => styleAxis(s, false));
  g.append("g")
    .call(d3.axisLeft(y).tickValues(yTicks).tickFormat((d, k) => yTickLabels[k]).tickSize(8).tickPadding(7.5).tickSizeOuter(0))
    .call(s => { styleAxis(s, true); s.selectAll(".tick text").attr("dy", "0.45em"); });
  g.append("g")
    .call(d3.axisLeft(y).tickValues(yMinor).tickFormat(() => "").tickSize(4.5).tickSizeOuter(0))
    .call(s => styleAxis(s, false));
  g.append("g").attr("transform", `translate(${W},0)`)
    .call(d3.axisRight(y).tickValues(yTicks).tickFormat(() => "").tickSize(8).tickSizeOuter(0))
    .call(s => styleAxis(s, false));
  g.append("g").attr("transform", `translate(${W},0)`)
    .call(d3.axisRight(y).tickValues(yMinor).tickFormat(() => "").tickSize(4.5).tickSizeOuter(0))
    .call(s => styleAxis(s, false));

  // axis titles
  g.append("text").attr("x", W / 2).attr("y", H + 73.5)
    .attr("text-anchor", "middle").attr("font-family", FONT).attr("font-size", 32)
    .text(xLabel);
  g.append("text").attr("transform", `translate(-75.5,${H / 2}) rotate(-90)`)
    .attr("text-anchor", "middle").attr("font-family", FONT).attr("font-size", 32)
    .text(yLabel);

  // station name
  const special = p.name === "JMA_E4E";
  g.append("text").attr("x", special ? 20.6 : 39).attr("y", special ? H - 41.5 : H - 47.5)
    .attr("font-family", FONT).attr("font-weight", "bold").attr("font-size", 43)
    .text(p.name);
});
</script>
</body></html>
